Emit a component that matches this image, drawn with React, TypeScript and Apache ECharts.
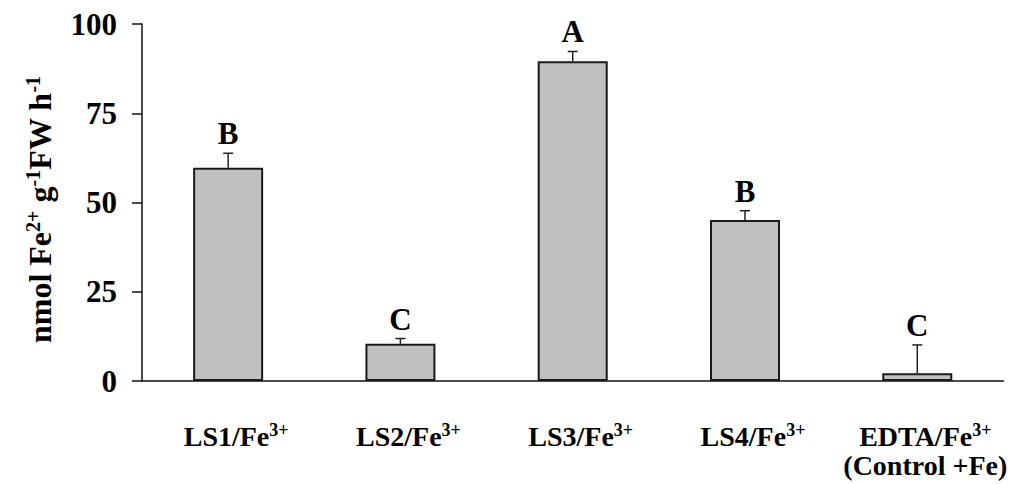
import React, { useEffect, useRef } from "react";
import * as echarts from "echarts";

const categoryMain = ["LS1/Fe", "LS2/Fe", "LS3/Fe", "LS4/Fe", "EDTA/Fe"];
const categorySup = ["3+", "3+", "3+", "3+", "3+"];
const categorySecondLine = ["", "", "", "", "(Control +Fe)"];
const values = [59.7, 10.4, 89.6, 45.1, 2.2];
const errors = [4.1, 1.5, 2.7, 2.6, 7.9];
const letters = ["B", "C", "A", "B", "C"];
const yTicks = [0, 25, 50, 75, 100];

const FONT = "Liberation Serif";

export default function App() {
  const ref = useRef<HTMLDivElement>(null);

  useEffect(() => {
    if (!ref.current) return;
    const chart = echarts.init(ref.current, undefined, { renderer: "svg" });
    const option = {
      animation: false,
      backgroundColor: "#ffffff",
      grid: { left: 142, right: 4, top: 24, bottom: 103, containLabel: false },
      xAxis: {
        type: "category",
        data: categoryMain.map((_, i) => String(i)),
        axisLine: { show: true, lineStyle: { color: "#111", width: 1.5 } },
        axisTick: { show: false },
        axisLabel: {
          interval: 0,
          margin: 40,
          formatter: (val: string) => {
            const i = Number(val);
            let s = `{m|${categoryMain[i]}}{s|${categorySup[i]}}`;
            if (categorySecondLine[i]) s += `\n{m|${categorySecondLine[i]}}`;
            return s;
          },
          rich: {
            m: { fontFamily: FONT, fontWeight: "bold", fontSize: 28, lineHeight: 29, color: "#000", verticalAlign: "bottom" },
            s: { fontFamily: FONT, fontWeight: "bold", fontSize: 18, lineHeight: 18, color: "#000", verticalAlign: "top" },
          },
          padding: [0, 0, 0, 16],
        },
        splitLine: { show: false },
      },
      yAxis: {
        type: "value",
        min: yTicks[0],
        max: yTicks[yTicks.length - 1],
        interval: 25,
        name: "{m|nmol Fe}{s|2+}{m| g}{s|-1}{m|FW h}{s|-1}",
        nameLocation: "middle",
        nameRotate: 90,
        nameGap: 86,
        nameTextStyle: {
          padding: [0, 14, 0, 0],
          rich: {
            m: { fontFamily: FONT, fontWeight: "bold", fontSize: 32, lineHeight: 33, color: "#000", verticalAlign: "bottom" },
            s: { fontFamily: FONT, fontWeight: "bold", fontSize: 20, lineHeight: 20, color: "#000", verticalAlign: "top" },
          },
        },
        axisLine: { show: true, lineStyle: { color: "#111", width: 1.5 } },
        axisTick: { show: true, inside: false, length: 10, lineStyle: { color: "#111", width: 1.5 } },
        axisLabel: {
          margin: 25,
          fontFamily: FONT,
          fontWeight: "bold",
          fontSize: 31,
          color: "#000",
        },
        splitLine: { show: false },
      },
      series: [
        {
          type: "bar",
          data: values,
          barWidth: 70,
          itemStyle: { color: "#c0c0c0", borderColor: "#1a1a1a", borderWidth: 2 },
          z: 2,
        },
        {
          type: "custom",
          data: values.map((v, i) => [i, v, errors[i]]),
          encode: { x: 0, y: 1 },
          z: 3,
          renderItem: (params: any, api: any) => {
            const i = api.value(0);
            const v = api.value(1);
            const e = api.value(2);
            const base = api.coord([i, v]);
            const top = api.coord([i, v + e]);
            const style = { stroke: "#222", lineWidth: 1.5 };
            return {
              type: "group",
              children: [
                { type: "line", shape: { x1: base[0], y1: base[1], x2: top[0], y2: top[1] }, style },
                { type: "line", shape: { x1: top[0] - 5, y1: top[1], x2: top[0] + 5, y2: top[1] }, style },
                {
                  type: "text",
                  x: top[0],
                  y: top[1] - 4,
                  style: {
                    text: letters[params.dataIndex],
                    font: `bold 31px ${FONT}`,
                    fill: "#000",
                    textAlign: "center",
                    textVerticalAlign: "bottom",
                  },
                },
              ],
            };
          },
        },
      ],
    };
    chart.setOption(option as any);
    return () => chart.dispose();
  }, []);

  return (
    <div
      ref={ref}
      style={{ position: "absolute", left: 0, top: 0, width: 1010, height: 484, background: "#fff" }}
    />
  );
}
